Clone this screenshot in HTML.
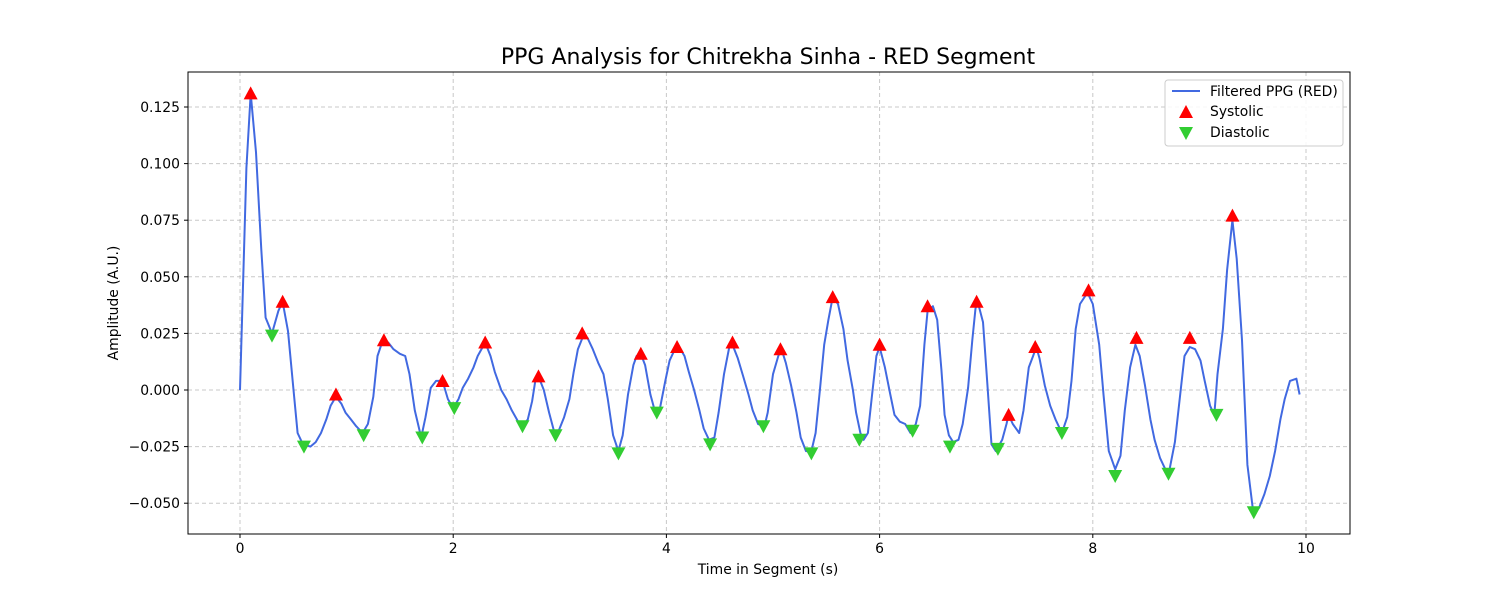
<!DOCTYPE html>
<html><head><meta charset="utf-8"><style>
body{margin:0;background:#fff;font-family:"DejaVu Sans","Liberation Sans",sans-serif;}
svg{display:block}
</style></head><body>
<svg id="chart" width="1500" height="600" xmlns="http://www.w3.org/2000/svg" font-family="DejaVu Sans, Liberation Sans, sans-serif">
<rect width="1500" height="600" fill="#fff"/>
<g id="grid"></g>
<g id="plot"></g>
<rect x="188" y="72" width="1162" height="462" fill="none" stroke="#000" stroke-width="1"/>
<g id="ticks" font-size="13.9" fill="#000"></g>
<text x="768" y="64" text-anchor="middle" font-size="22">PPG Analysis for Chitrekha Sinha - RED Segment</text>
<text x="768" y="574" text-anchor="middle" font-size="13.9">Time in Segment (s)</text>
<text transform="translate(118,303) rotate(-90)" text-anchor="middle" font-size="13.9">Amplitude (A.U.)</text>
<g>
<rect x="1165" y="80" width="178" height="66" rx="3" fill="#fff" fill-opacity="0.85" stroke="#ccc"/>
<line x1="1172" y1="91" x2="1200" y2="91" stroke="#4169e1" stroke-width="2"/>
<text x="1210" y="96" font-size="13.9">Filtered PPG (RED)</text>
<polygon points="1186,105 1179,118 1193,118" fill="#ff0000"/>
<text x="1210" y="116" font-size="13.9">Systolic</text>
<polygon points="1179,127 1193,127 1186,140" fill="#32cd32"/>
<text x="1210" y="137" font-size="13.9">Diastolic</text>
</g>
</svg>
<script>
const times=[0.00,0.06,0.10,0.15,0.20,0.24,0.30,0.36,0.40,0.45,0.50,0.54,0.59,0.66,0.71,0.76,0.81,0.85,0.90,0.95,0.99,1.04,1.09,1.15,1.20,1.25,1.29,1.34,1.39,1.44,1.50,1.55,1.59,1.64,1.70,1.74,1.79,1.84,1.90,1.95,2.00,2.05,2.09,2.14,2.19,2.23,2.30,2.35,2.39,2.45,2.50,2.55,2.61,2.65,2.70,2.74,2.77,2.80,2.85,2.90,2.95,2.99,3.04,3.09,3.13,3.17,3.22,3.26,3.31,3.36,3.41,3.45,3.50,3.55,3.59,3.64,3.69,3.72,3.76,3.80,3.85,3.89,3.94,3.99,4.03,4.08,4.12,4.17,4.21,4.26,4.31,4.35,4.40,4.45,4.49,4.54,4.59,4.62,4.67,4.72,4.77,4.81,4.86,4.92,4.95,5.00,5.05,5.08,5.12,5.17,5.22,5.26,5.31,5.36,5.40,5.44,5.48,5.52,5.56,5.61,5.66,5.70,5.75,5.78,5.82,5.85,5.89,5.93,5.97,6.00,6.05,6.10,6.14,6.19,6.24,6.29,6.34,6.38,6.42,6.45,6.50,6.54,6.58,6.61,6.65,6.69,6.74,6.78,6.83,6.87,6.90,6.92,6.97,7.01,7.05,7.09,7.15,7.19,7.21,7.25,7.31,7.35,7.40,7.44,7.47,7.50,7.55,7.60,7.65,7.71,7.76,7.80,7.84,7.88,7.95,8.00,8.06,8.10,8.15,8.21,8.26,8.30,8.35,8.40,8.44,8.49,8.54,8.58,8.63,8.68,8.72,8.77,8.82,8.86,8.91,8.96,9.01,9.05,9.10,9.14,9.17,9.22,9.26,9.31,9.35,9.40,9.45,9.50,9.56,9.61,9.66,9.71,9.76,9.80,9.85,9.91,9.94];
const amps=[0.000,0.098,0.131,0.105,0.062,0.032,0.025,0.035,0.039,0.026,0.001,-0.019,-0.024,-0.025,-0.023,-0.019,-0.013,-0.007,-0.003,-0.006,-0.010,-0.013,-0.016,-0.019,-0.015,-0.003,0.015,0.022,0.021,0.018,0.016,0.015,0.007,-0.009,-0.021,-0.012,0.001,0.004,0.004,-0.004,-0.008,-0.004,0.001,0.005,0.010,0.015,0.021,0.015,0.008,0.000,-0.004,-0.009,-0.014,-0.016,-0.013,-0.005,0.004,0.006,0.000,-0.010,-0.019,-0.018,-0.012,-0.004,0.008,0.018,0.024,0.023,0.018,0.012,0.007,-0.004,-0.020,-0.027,-0.020,-0.002,0.011,0.015,0.016,0.011,-0.002,-0.009,-0.008,0.004,0.013,0.018,0.019,0.015,0.008,0.000,-0.009,-0.017,-0.022,-0.021,-0.010,0.007,0.019,0.020,0.014,0.006,-0.002,-0.009,-0.015,-0.016,-0.010,0.007,0.015,0.018,0.012,0.002,-0.010,-0.021,-0.027,-0.027,-0.019,0.000,0.020,0.031,0.041,0.038,0.027,0.013,0.000,-0.010,-0.019,-0.022,-0.019,-0.002,0.015,0.019,0.010,-0.002,-0.011,-0.014,-0.015,-0.019,-0.015,-0.007,0.020,0.035,0.037,0.031,0.009,-0.011,-0.020,-0.023,-0.022,-0.015,0.001,0.022,0.036,0.039,0.030,0.003,-0.024,-0.027,-0.022,-0.015,-0.011,-0.015,-0.019,-0.009,0.010,0.015,0.019,0.014,0.002,-0.007,-0.013,-0.019,-0.012,0.004,0.027,0.038,0.043,0.038,0.020,-0.002,-0.027,-0.035,-0.029,-0.009,0.010,0.020,0.015,0.002,-0.013,-0.022,-0.030,-0.035,-0.035,-0.023,-0.002,0.015,0.019,0.018,0.013,0.004,-0.007,-0.011,0.007,0.027,0.053,0.075,0.058,0.022,-0.033,-0.052,-0.052,-0.046,-0.038,-0.027,-0.013,-0.004,0.004,0.005,-0.002];
const sysT=[0.10,0.40,0.90,1.35,1.90,2.30,2.80,3.21,3.76,4.10,4.62,5.07,5.56,6.00,6.45,6.91,7.21,7.46,7.96,8.41,8.91,9.31];
const sysV=[0.131,0.039,-0.002,0.022,0.004,0.021,0.006,0.025,0.016,0.019,0.021,0.018,0.041,0.020,0.037,0.039,-0.011,0.019,0.044,0.023,0.023,0.077];
const diaT=[0.30,0.60,1.16,1.71,2.01,2.65,2.96,3.55,3.91,4.41,4.91,5.36,5.81,6.31,6.66,7.11,7.71,8.21,8.71,9.16,9.51];
const diaV=[0.024,-0.025,-0.020,-0.021,-0.008,-0.016,-0.020,-0.028,-0.010,-0.024,-0.016,-0.028,-0.022,-0.018,-0.025,-0.026,-0.019,-0.038,-0.037,-0.011,-0.054];
const xTicks=[0,2,4,6,8,10];
const yTicks=[-0.050,-0.025,0.000,0.025,0.050,0.075,0.100,0.125];

const NS='http://www.w3.org/2000/svg';
const X=t=>240+t*106.6;
const Y=v=>390-v*2264;
function mk(tag,attrs,parent){const e=document.createElementNS(NS,tag);for(const k in attrs)e.setAttribute(k,attrs[k]);parent.appendChild(e);return e;}
const grid=document.getElementById('grid'),plot=document.getElementById('plot'),ticks=document.getElementById('ticks');
xTicks.forEach(t=>{
  const g=mk('line',{x1:X(t),x2:X(t),y1:72,y2:534,stroke:'#b0b0b0','stroke-width':1,'stroke-dasharray':'4,3','stroke-opacity':0.7},grid);
  
  
  mk('line',{x1:X(t),x2:X(t),y1:534,y2:538,stroke:'#000'},ticks);
  const tx=mk('text',{x:X(t),y:553,'text-anchor':'middle'},ticks);tx.textContent=String(t);
  
  
});
yTicks.forEach(v=>{
  const g=mk('line',{x1:188,x2:1350,y1:Y(v),y2:Y(v),stroke:'#b0b0b0','stroke-width':1,'stroke-dasharray':'4,3','stroke-opacity':0.7},grid);
  
  
  mk('line',{x1:184,x2:188,y1:Y(v),y2:Y(v),stroke:'#000'},ticks);
  const tx=mk('text',{x:180,y:Y(v)+5,'text-anchor':'end'},ticks);tx.textContent=(v<0?'\u2212':'')+Math.abs(v).toFixed(3);
  
  
});
const line=mk('polyline',{points:times.map((t,i)=>X(t).toFixed(1)+','+Y(amps[i]).toFixed(1)).join(' '),fill:'none',stroke:'#4169e1','stroke-width':2,'stroke-linejoin':'round'},plot);


sysT.forEach((t,i)=>{const x=X(t),y=Y(sysV[i]);
  const p=mk('polygon',{points:`${x},${y-7} ${x-7},${y+6} ${x+7},${y+6}`,fill:'#ff0000'},plot);
  
  
});
diaT.forEach((t,i)=>{const x=X(t),y=Y(diaV[i]);
  const p=mk('polygon',{points:`${x-7},${y-6} ${x+7},${y-6} ${x},${y+7}`,fill:'#32cd32'},plot);
  
  
});
</script>
</body></html>
